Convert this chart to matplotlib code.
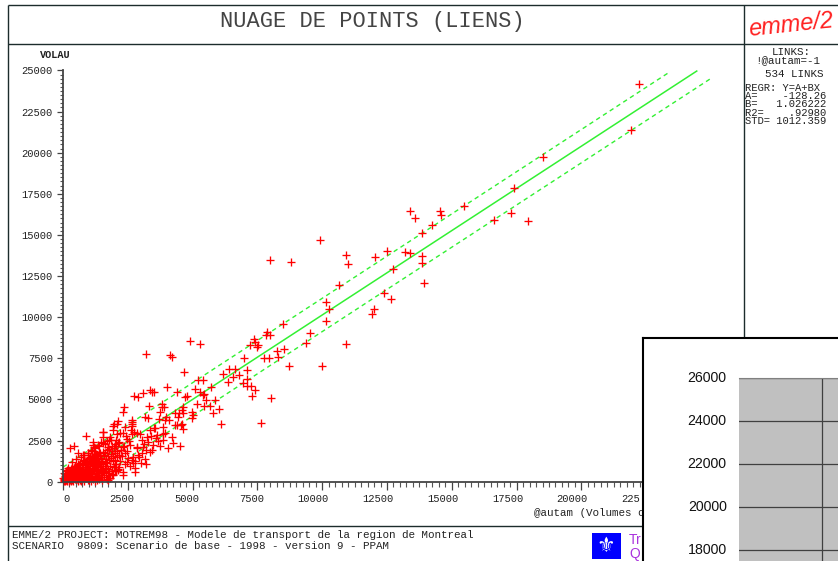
import matplotlib
matplotlib.use("Agg")
import matplotlib.pyplot as plt
from matplotlib.patches import Rectangle
from matplotlib.ticker import MultipleLocator
from matplotlib.transforms import ScaledTranslation

W, H = 838, 561
MONO = "Liberation Mono"
INK = "#222222"

# points, upper right to lower left
far_x = [22210, 21926, 18519, 17400, 17270, 16616, 17952, 13375, 14533, 14572, 13580, 15459,
         14236, 13850, 9903, 7999, 8785, 10906, 12025, 12488, 13206, 13375, 13850, 13850,
         11007, 12743, 10637, 13916, 12373, 12654, 10158, 10274, 11987, 11921, 10158, 8476]
far_y = [24158, 21380, 19720, 17836, 16316, 15909, 15830, 16437, 16437, 16194, 16012, 16778,
         15605, 15100, 14675, 13477, 13374, 13781, 13678, 14043, 13945, 13884, 13739, 13277,
         13234, 12948, 11957, 12061, 11471, 11125, 10924, 10517, 10498, 10176, 9787, 9568]

mid_x = [7882, 7820, 7986, 9541, 7357, 7396, 7215, 7535, 7496, 9387, 10930, 8256,
         8515, 7743, 7960, 8283, 8731, 9981, 4911, 5297, 3191, 4128, 4194, 6983,
         4680, 6416, 6636, 7087, 6173, 6547, 6802, 5208, 5413, 6354, 7110, 6956,
         7087, 7242, 7407, 7303, 8036, 5710, 5104, 5285, 5390, 5440, 5505, 5876,
         5170, 5451, 5671, 6019, 5787, 6107, 7651, 4410, 4707, 4796, 4001, 3356,
         3422, 3511, 3075, 2751, 2894, 3318, 3831, 3808, 3908, 3742, 4641, 4579,
         4321, 4487, 4618, 4965, 5027, 4448, 3152, 3291, 3974, 3715, 4101, 2650,
         2650, 4321, 4579, 3870, 3522, 4641, 4965]
mid_y = [9119, 8918, 8918, 9040, 8693, 8511, 8292, 8292, 8207, 8450, 8389, 7964,
         8085, 7538, 7538, 7581, 7033, 7052, 8571, 8353, 7781, 7684, 7562, 7520,
         6650, 6869, 6869, 6790, 6565, 6347, 6486, 6164, 6164, 6042, 6261, 5982,
         5836, 5836, 5593, 5210, 5070, 5757, 5653, 5453, 5252, 5313, 4985, 4985,
         4723, 4602, 4602, 4419, 4158, 3489, 3587, 5435, 5131, 5210, 5775, 5574,
         5435, 5435, 5374, 5210, 5167, 4602, 4723, 4523, 4523, 4237, 4541, 4359,
         4158, 4158, 4195, 4237, 4055, 3915, 3951, 3872, 3951, 3793, 3751, 3751,
         3508, 3465, 3508, 3325, 3246, 3222, 3872]

low_x = [2353, 2303, 2133, 1979, 1555, 887, 1917, 2095, 2326, 2392, 2650, 2623,
         2843, 2650, 3356, 3549, 3935, 4386, 4540, 3935, 1555, 1813, 2662, 2071,
         1941, 1555, 270, 424, 590, 1170, 1748, 2133, 2326, 2843, 2650, 2778,
         1748, 2998, 3164, 3191, 3291, 3870, 4062, 4255, 4514, 4194, 3870, 2326,
         2133, 2457, 2392, 2006, 3620, 3400, 3050, 2480, 2900, 2560,
         2210, 2440, 2730, 2980, 3120, 3260, 3470, 3680, 3760, 2570, 2870, 3030,
         2280, 2510, 2690, 2930, 3210, 3340, 2180, 2380, 2760, 3090, 3450, 3590,
         2060, 2240, 2590, 2790, 2040, 2300, 2470, 2700]
low_y = [4559, 4255, 3708, 3508, 3040, 2760, 3143, 2900, 2942, 3343, 3386, 3143,
         2942, 2900, 3143, 3246, 3751, 3447, 3440, 2942, 2736, 2736, 3648, 3508,
         3404, 3003, 2030, 2188, 1726, 2395, 2128, 2334, 2128, 2067, 1319, 608,
         103, 1155, 1380, 1927, 2432, 2535, 2030, 2334, 2188, 2736, 2881, 608,
         711, 1216, 1726, 1076, 2860, 2790, 2560, 1840, 1640, 2480,
         2950, 2780, 3020, 2870, 2300, 2690, 2210, 2480, 2150, 2240, 2130, 1730,
         1560, 1420, 1130, 1520, 1080, 1830, 1270, 1050, 820, 2110, 1900, 2670,
         2520, 1930, 930, 1260, 640, 420, 2600, 1480]

# the blob near the origin is too dense to separate, best estimates
dense_x = [22, 38, 63, 74, 92, 108, 133, 148, 172, 187, 214, 228,
           252, 268, 293, 307, 334, 352, 366, 393, 408, 433, 447, 472,
           488, 513, 528, 553, 568, 594, 607, 633, 648, 672, 688, 713,
           727, 754, 768, 793, 807, 834, 848, 873, 888, 914, 927, 953,
           968, 994, 1007, 1034, 1048, 1073, 1088, 1114, 1127, 1153, 1168, 1194,
           1207, 1233, 1248, 1274, 1287, 1313, 1328, 1354, 1367, 1393, 1408, 1434,
           1447, 1473, 1488, 1514, 1527, 1553, 1568, 1594, 1607, 1633, 1648, 1674,
           1687, 1713, 1728, 1754, 1767, 1793, 1808, 1834, 1847, 1873, 1888, 1914,
           1927, 1953, 1968, 1994, 2007, 2033, 2048, 2074, 2087, 2113, 2128, 2154,
           17, 33, 58, 83, 107, 122, 147, 163, 188, 203, 227, 243,
           268, 283, 308, 322, 347, 363, 388, 402, 427, 443, 468, 482,
           507, 522, 547, 563, 588, 602, 627, 643, 668, 682, 707, 722,
           747, 762, 787, 802, 828, 842, 868, 882, 908, 922, 948, 962,
           988, 1002, 1028, 1042, 1068, 1082, 1108, 1122, 1148, 1162, 1188, 1202,
           1228, 1242, 1268, 1282, 1308, 1322, 1348, 1362, 1388, 1402, 1428, 1442,
           803, 948, 1103, 1247, 1404, 1548, 1703, 1847, 2004, 2147, 2253, 2347,
           1120, 1260, 1390, 1520, 1660, 1790, 1930, 2060, 1180, 1330, 1470, 1610,
           1750, 1880, 2020, 2150, 960, 1080, 1210, 1340, 1480, 1620, 1760, 1900,
           340, 520, 680, 830, 990, 1140, 610, 760, 910, 1060, 450, 1210,
           1300, 1450, 1600, 1750, 1500, 1900, 1380, 1680, 1220, 2010, 1560, 1830]
dense_y = [60, 180, 350, 30, 520, 120, 250, 700, 60, 410, 160, 560,
           300, 90, 750, 210, 460, 610, 130, 340, 820, 240, 520, 680,
           150, 400, 290, 600, 730, 80, 510, 350, 920, 210, 640, 450,
           1050, 310, 780, 560, 180, 690, 920, 420, 1130, 290, 640, 830,
           480, 1240, 120, 720, 950, 1380, 590, 1100, 260, 830, 1480, 1010,
           680, 1290, 1520, 440, 1130, 870, 1640, 1020, 1380, 590, 1210, 1760,
           940, 1450, 720, 1280, 1830, 1080, 1600, 380, 1190, 1730, 860, 1390,
           1950, 1140, 760, 1580, 1290, 2010, 980, 1700, 1440, 650, 1860, 1230,
           1540, 2050, 880, 1720, 1330, 2200, 1070, 1880, 1480, 2380, 780, 1640,
           240, 110, 470, 260, 90, 640, 380, 130, 850, 290, 480, 40,
           520, 210, 60, 360, 150, 880, 500, 70, 630, 340, 190, 980,
           700, 190, 460, 70, 1080, 250, 780, 130, 1150, 380, 50, 890,
           150, 1230, 440, 1340, 30, 540, 1000, 220, 740, 1280, 100, 1100,
           800, 1420, 360, 1190, 60, 1270, 520, 1570, 700, 190, 1320, 950,
           1600, 300, 1040, 1700, 520, 1420, 800, 1130, 1820, 420, 960, 1550,
           1600, 1720, 1890, 2050, 2200, 2340, 2480, 2560, 2300, 2420, 1900, 2200,
           210, 340, 160, 420, 280, 510, 390, 620, 640, 720, 590, 830,
           540, 450, 700, 920, 1750, 1930, 2110, 2260, 2420, 2290, 2540, 2190,
           1220, 1370, 1510, 1180, 1410, 2240, 1040, 1630, 1280, 1480, 960, 1890,
           120, 300, 560, 680, 80, 420, 210, 150, 40, 730, 620, 240]

# regression line and its +/- one std lines
fit_x = [125, 24450]
fit_y = [0, 24960]
upper_x = [0, 23380]
upper_y = [884, 24878]
lower_x = [1110, 24990]
lower_y = [0, 24505]

major_ticks = [0, 2500, 5000, 7500, 10000, 12500, 15000, 17500, 20000, 22500, 25000]
x_tick_labels = ["0", "2500", "5000", "7500", "10000", "12500", "15000", "17500", "20000"]
inset_ticks = [18000, 20000, 22000, 24000, 26000]

stats_names = ["A=", "B=", "R2=", "STD="]
stats_values = ["-128.26", "1.026222", ".92980", "1012.359"]


def px_axes(left, top, right, bottom, **kw):
    return fig.add_axes([left / W, 1 - bottom / H, (right - left) / W, (bottom - top) / H], **kw)


fig = plt.figure(figsize=(W / 100, H / 100), dpi=100, facecolor="white")

# frame and texts, in pixels
fr = px_axes(0, 0, W, H)
fr.set_xlim(0, W)
fr.set_ylim(H, 0)
fr.axis("off")
for xs, ys in [([7.5, 838], [5, 5]), ([7.5, 7.5], [5, 561]), ([7.5, 838], [44, 44]),
               ([7.5, 642], [526, 526]), ([744, 744], [5, 338])]:
    fr.plot(xs, ys, color="#1c2c2c", lw=1.0, solid_capstyle="butt")

fr.text(372, 21.5, "NUAGE DE POINTS (LIENS)", family=MONO, fontsize=15.8, color="#444444",
        ha="center", va="center")
fr.text(791, 25, "emme/2", family="Liberation Sans", style="italic", fontsize=17, color="#ff2020",
        ha="center", va="center", rotation=6)

fr.text(791, 52, "LINKS:", family=MONO, fontsize=7.8, color=INK, ha="center", va="center")
fr.text(788, 60.5, "!@autam=-1", family=MONO, fontsize=7.8, color=INK, ha="center", va="center")
fr.text(794, 73.5, "534 LINKS", family=MONO, fontsize=7.8, color=INK, ha="center", va="center")

# one monospaced block, the rows are tighter than the font's own height
stats_rows = ["REGR: Y=A+BX"]
for name, value in zip(stats_names, stats_values):
    stats_rows.append(name + value.rjust(13 - len(name)))
fr.text(745, 82.5, "\n".join(stats_rows), family=MONO, fontsize=7.6, color=INK, va="top", linespacing=0.8)

fr.text(55.5, 55, "VOLAU", family=MONO, fontsize=7.4, weight="bold", color=INK, ha="center", va="center")
# only the part left of the pasted chart shows
fr.text(534, 513, "@autam (Volumes o", family=MONO, fontsize=7.8, color=INK, va="center")
fr.text(12, 535, "EMME/2 PROJECT: MOTREM98 - Modele de transport de la region de Montreal",
        family=MONO, fontsize=7.85, color=INK, va="center")
fr.text(12, 545.7, "SCENARIO  9809: Scenario de base - 1998 - version 9 - PPAM",
        family=MONO, fontsize=7.85, color=INK, va="center")

fr.add_patch(Rectangle((591.5, 533), 29.5, 26, color="#0000ff", lw=0))
fr.text(606.2, 546, "\u269c", family="DejaVu Sans", fontsize=15, color="white", ha="center", va="center")
fr.text(629, 540, "Tr", family="Liberation Sans", fontsize=10, color="#aa33dd", va="center")
fr.text(629, 554, "Q", family="Liberation Sans", fontsize=10, color="#aa33dd", va="center")
fr.text(621.7, 499, "225", family=MONO, fontsize=7.6, color=INK, va="center")

# scatter plot
ax = px_axes(63, 70.4, 711, 481.7)
ax.patch.set_alpha(0)
ax.set_xlim(0, 25000)
ax.set_ylim(0, 25000)
for side in ["top", "right"]:
    ax.spines[side].set_visible(False)
for side in ["left", "bottom"]:
    ax.spines[side].set_color("#444444")
    ax.spines[side].set_linewidth(1.3)

ax.plot(fit_x, fit_y, color="#33f033", lw=1.1)
ax.plot(upper_x, upper_y, color="#33f033", lw=1.0, dashes=(3.2, 2.6))
ax.plot(lower_x, lower_y, color="#33f033", lw=1.0, dashes=(3.2, 2.6))
for xs, ys in [(far_x, far_y), (mid_x, mid_y), (low_x, low_y), (dense_x, dense_y)]:
    ax.plot(xs, ys, ls="none", marker="+", ms=5.2, mew=0.95, color="#ff0000", clip_on=False)

ax.set_xticks(major_ticks)
ax.set_yticks(major_ticks)
ax.xaxis.set_minor_locator(MultipleLocator(250))
ax.yaxis.set_minor_locator(MultipleLocator(250))
ax.tick_params(axis="x", which="major", length=5.8, width=0.9, color="#444444", labelbottom=False)
ax.tick_params(axis="x", which="minor", length=3.4, width=0.8, color="#555555")
ax.tick_params(axis="y", which="major", length=4.4, width=0.9, color="#444444", pad=3)
ax.tick_params(axis="y", which="minor", length=2.2, width=0.8, color="#555555")
ax.set_yticklabels([str(t) for t in major_ticks], family=MONO, fontsize=7.6, color=INK)

# x labels sit with their right end just past the tick
for t, lab in zip(major_ticks, x_tick_labels):
    ax.annotate(lab, xy=(t, 0), xytext=(4.7, -12.5), textcoords="offset points", family=MONO,
                fontsize=7.6, color=INK, ha="right", va="center", annotation_clip=False)

# other chart pasted over the lower right corner
cover = px_axes(642.5, 338, W + 2, H + 2, zorder=5)
cover.set_xticks([])
cover.set_yticks([])
cover.set_facecolor("white")
for side in cover.spines:
    cover.spines[side].set_color("black")
    cover.spines[side].set_linewidth(1.5)

inset = px_axes(738.5, 378, W, H, zorder=6)
inset.set_facecolor("#c0c0c0")
inset.set_xlim(0, 1)
inset.set_ylim(17488, 26000)
inset.set_xticks([0.836])
inset.set_yticks(inset_ticks)
inset.set_yticklabels([str(t) for t in inset_ticks], family="Liberation Sans", fontsize=10.2, color="#111111")
inset.tick_params(axis="y", length=0, pad=8.5)
inset.tick_params(axis="x", length=0, labelbottom=False)
nudge = ScaledTranslation(0, 1.5 / 100, fig.dpi_scale_trans)
for lbl in inset.get_yticklabels():
    lbl.set_transform(lbl.get_transform() + nudge)
inset.grid(True, color="#404040", lw=0.9)
inset.set_axisbelow(True)
for side in ["left", "right", "bottom"]:
    inset.spines[side].set_visible(False)
inset.spines["top"].set_color("#808080")

fig.savefig("out.png", dpi=100, facecolor="white")
